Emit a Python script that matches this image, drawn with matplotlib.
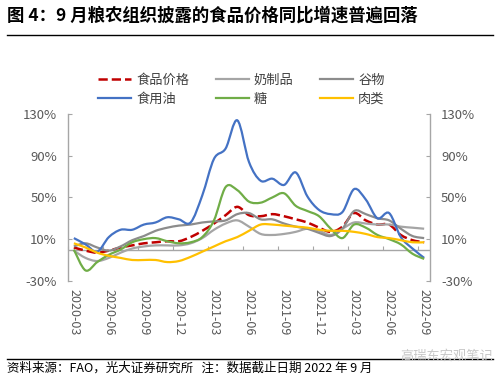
import numpy as np
import pandas as pd
import matplotlib
matplotlib.use('Agg')
import matplotlib.pyplot as plt
from matplotlib.path import Path
from matplotlib.patches import PathPatch
from matplotlib.lines import Line2D

plt.rcParams['font.family'] = ['Noto Sans CJK SC', 'DejaVu Sans']

# monthly YoY (%), 2020-03 .. 2022-09
months = pd.date_range('2020-03', '2022-09', freq='MS').strftime('%Y-%m').tolist()
food = [2, -1, -3, -1, 2, 4, 6, 7, 8, 8, 12, 18, 25, 33, 41, 33, 32, 34, 32, 29, 26, 21, 17, 22, 35, 28, 24, 24, 14, 9, 7]
dairy = [-1, -8, -11, -8, -3, 1, 3, 4, 4, 4, 6, 11, 19, 25, 28, 22, 15, 14, 15, 17, 20, 18, 14, 20, 26, 25, 24, 24, 22, 21, 20]
cereal = [3, 6, 2, -1, 3, 9, 13, 18, 21, 23, 24, 26, 27, 28, 34, 35, 29, 29, 25, 22, 20, 16, 13, 20, 37, 34, 30, 28, 20, 13, 11]
oil = [11, 5, -2, 12, 19, 19, 24, 26, 31, 29, 26, 52, 87, 97, 124, 84, 66, 68, 62, 74, 51, 38, 34, 36, 58, 48, 30, 35, 12, 1, -8]
sugar = [0, -20, -12, -5, 0, 7, 10, 11, 8, 6, 7, 12, 28, 60, 57, 46, 45, 50, 54, 42, 37, 32, 20, 11, 24, 21, 14, 10, 5, -4, -9]
meat = [6, 2, -3, -6, -8, -10, -10, -10, -12, -11, -7, -2, 3, 8, 12, 18, 24, 24, 23, 22, 21, 19, 18, 18, 17, 15, 12, 11, 9, 7, 7]

series = [
    ('食品价格', food, '#C00000', '--', 1.8),
    ('奶制品', dairy, '#A5A5A5', '-', 1.6),
    ('谷物', cereal, '#8C8C8C', '-', 1.6),
    ('食用油', oil, '#4472C4', '-', 1.6),
    ('糖', sugar, '#70AD47', '-', 1.6),
    ('肉类', meat, '#FFC000', '-', 1.6),
]
yticks = [-30, 10, 50, 90, 130]


def smooth_path(xs, ys):
    # excel-like smoothed line: catmull-rom drawn as cubic beziers
    p = np.column_stack([xs, ys]).astype(float)
    n = len(p)
    verts = [p[0]]
    codes = [Path.MOVETO]
    for i in range(n - 1):
        p0 = p[i - 1] if i > 0 else p[i]
        p3 = p[i + 2] if i + 2 < n else p[i + 1]
        verts += [p[i] + (p[i + 1] - p0) / 6, p[i + 1] - (p3 - p[i]) / 6, p[i + 1]]
        codes += [Path.CURVE4] * 3
    return Path(verts, codes)


fig = plt.figure(figsize=(5, 3.79), dpi=100)
ax = fig.add_axes([0.136, 0.259, 0.724, 0.440])

x = np.arange(len(months)) + 0.5
ax.axhline(0, color='#A6A6A6', lw=1, zorder=1)

handles = {}
order = [3, 4, 5, 1, 2, 0]  # draw food price last
for idx in order:
    name, vals, col, ls, lw = series[idx]
    ax.add_patch(PathPatch(smooth_path(x, vals), fill=False, edgecolor=col,
                           lw=lw, linestyle=ls, capstyle='butt', zorder=3 + idx))
for name, vals, col, ls, lw in series:
    handles[name] = Line2D([], [], color=col, lw=lw, linestyle=ls)

ax.set_xlim(0, len(months))
ax.set_ylim(-30, 130)
ax.set_yticks(yticks)
ax.set_yticklabels([f'{v}%' for v in yticks])
ax.set_xticks(x[::3])
ax.set_xticklabels(months[::3], rotation=-90)
ax.tick_params(axis='x', length=0, pad=6, labelsize=9, colors='#595959')
ax.tick_params(axis='y', direction='in', length=3, color='#A6A6A6', labelsize=9.5,
               labelcolor='#595959', left=True, right=True, labelleft=True,
               labelright=True, pad=8)
for s in ('top', 'bottom'):
    ax.spines[s].set_visible(False)
for s in ('left', 'right'):
    ax.spines[s].set_color('#A6A6A6')
    ax.spines[s].set_linewidth(1)

# tick marks on the zero line, between categories
sec = ax.secondary_xaxis(30 / 160)
sec.set_xticks(np.arange(0, len(months), 3))
sec.set_xticklabels([])
sec.tick_params(direction='in', length=3, color='#A6A6A6')
sec.spines['bottom'].set_visible(False)

leg_order = ['食品价格', '食用油', '奶制品', '糖', '谷物', '肉类']
fig.legend([handles[n] for n in leg_order], leg_order, loc='upper left',
           bbox_to_anchor=(0.172, 0.836), ncol=3, frameon=False, fontsize=9.5,
           handlelength=2.5, handletextpad=0.4, columnspacing=2.0,
           labelspacing=0.45, labelcolor='#404040')

fig.text(0.014, 0.958, '图 4：9 月粮农组织披露的食品价格同比增速普遍回落',
         fontsize=12.5, fontweight='bold', va='center', ha='left')
fig.add_artist(Line2D([0.014, 0.986], [0.907, 0.907], transform=fig.transFigure,
                      color='black', lw=1))
fig.add_artist(Line2D([0.014, 0.986], [0.053, 0.053], transform=fig.transFigure,
                      color='black', lw=1))
fig.text(0.014, 0.028, '资料来源：FAO，光大证券研究所   注：数据截止日期 2022 年 9 月',
         fontsize=9.0, va='center', ha='left')
fig.text(0.985, 0.06, '高瑞东宏观笔记', fontsize=9.5, color='#C8C8C8',
         va='center', ha='right')

fig.savefig('out.png', dpi=100)
